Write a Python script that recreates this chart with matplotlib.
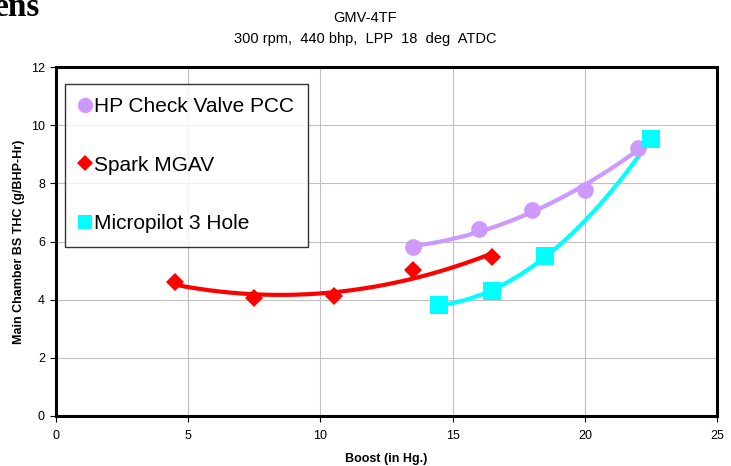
import numpy as np
import matplotlib
matplotlib.use("Agg")
import matplotlib.pyplot as plt
from matplotlib.lines import Line2D

plt.rcParams['font.family'] = ['Liberation Sans', 'DejaVu Sans']

# Boost (in Hg.) vs main chamber BS THC (g/BHP-Hr)
hp_boost = [13.5, 16.0, 18.0, 20.0, 22.0]
hp_thc = [5.8, 6.42, 7.07, 7.78, 9.22]

spark_boost = [4.5, 7.5, 10.5, 13.5, 16.5]
spark_thc = [4.6, 4.06, 4.13, 5.02, 5.47]

micro_boost = [14.5, 16.5, 18.5, 22.5]
micro_thc = [3.82, 4.3, 5.5, 9.53]

x_ticks = [0, 5, 10, 15, 20, 25]
y_ticks = [0, 2, 4, 6, 8, 10, 12]

purple = '#cc99ff'
red = '#ff0000'
cyan = '#00ffff'


def trend(x, y, deg):
    # polynomial trendline over the range of the data
    coef = np.polyfit(x, y, deg)
    xs = np.linspace(min(x), max(x), 200)
    return xs, np.polyval(coef, xs)


fig = plt.figure(figsize=(7.31, 4.66), dpi=100)
ax = fig.add_axes([0.0766, 0.1073, 0.9044, 0.7487])

series = [
    (hp_boost, hp_thc, purple, 'o', 12, 2),
    (spark_boost, spark_thc, red, 'D', 9.5, 2),
    (micro_boost, micro_thc, cyan, 's', 13, 2),
]
for xb, yt, col, mk, ms, deg in series:
    xs, ys = trend(xb, yt, deg)
    ax.plot(xs, ys, color=col, lw=3, solid_capstyle='butt', zorder=3)
    ax.plot(xb, yt, linestyle='none', marker=mk, color=col, ms=ms,
            markeredgewidth=0, zorder=4)

ax.set_xlim(0, 25)
ax.set_ylim(0, 12)
ax.set_xticks(x_ticks)
ax.set_yticks(y_ticks)
ax.grid(True, color='#c0c0c0', lw=0.8)
ax.set_axisbelow(True)
for sp in ax.spines.values():
    sp.set_linewidth(2.2)
    sp.set_color('black')
ax.tick_params(axis='both', direction='out', length=4, width=0.8, labelsize=9)
ax.tick_params(axis='x', pad=6)
ax.tick_params(axis='y', pad=4)

ax.set_xlabel('Boost (in Hg.)', fontsize=9, fontweight='bold', labelpad=8)
ax.set_ylabel('Main Chamber BS THC (g/BHP-Hr)', fontsize=9, fontweight='bold',
              labelpad=4)

fig.text(0.5, 0.961, 'GMV-4TF', ha='center', va='center', fontsize=10.5)
fig.text(0.5, 0.916, '300 rpm,  440 bhp,  LPP  18  deg  ATDC', ha='center',
         va='center', fontsize=10.5)
fig.text(-0.008, 0.965, 'ens', ha='left', va='baseline', fontsize=24,
         fontweight='bold', family=['Liberation Serif'])

handles = [
    Line2D([], [], linestyle='none', marker='o', color=purple, ms=11, mew=0),
    Line2D([], [], linestyle='none', marker='D', color=red, ms=8.5, mew=0),
    Line2D([], [], linestyle='none', marker='s', color=cyan, ms=10, mew=0),
]
labels = ['HP Check Valve PCC', 'Spark MGAV', 'Micropilot 3 Hole']
leg = ax.legend(handles, labels, loc='upper left', bbox_to_anchor=(0.014, 0.953),
                fontsize=15, frameon=True, fancybox=False, handlelength=0.6,
                handletextpad=0.15, labelspacing=1.9, borderpad=0.65,
                borderaxespad=0)
leg.get_frame().set_edgecolor('black')
leg.get_frame().set_linewidth(1.0)

fig.savefig('out.png', dpi=100)
